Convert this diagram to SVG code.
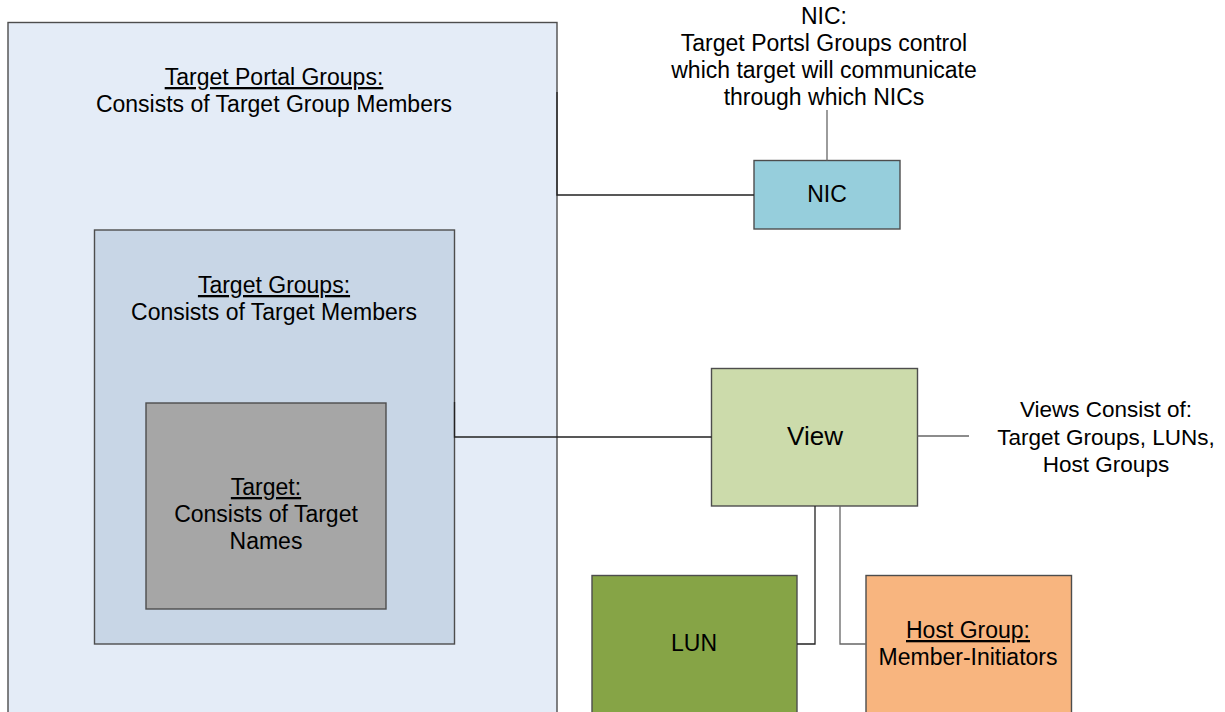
<svg xmlns="http://www.w3.org/2000/svg" width="1225" height="712" viewBox="0 0 1225 712">
  <style>
    .box { stroke: #4d4d4d; stroke-width: 1.4; }
    .wire { fill: none; stroke: #222; stroke-width: 1.3; }
    .wire-light { fill: none; stroke: #666; stroke-width: 1.3; }
    text { font-family: "Liberation Sans", Arial, sans-serif; font-size: 23px; fill: #000; text-anchor: middle; }
    .big { font-size: 26px; }
    .note { font-size: 22.5px; }
    .u { text-decoration: underline; }
  </style>
  <rect width="1225" height="712" fill="#ffffff"/>

  <!-- Target portal groups container -->
  <g id="target-portal-groups">
    <rect class="box" x="8" y="22.5" width="549" height="700" fill="#E4ECF7"/>
    <text x="274" y="85" class="u">Target Portal Groups:</text>
    <text x="274" y="112">Consists of Target Group Members</text>
  </g>

  <!-- Target groups -->
  <g id="target-groups">
    <rect class="box" x="94.5" y="230" width="360" height="414" fill="#C8D6E6"/>
    <text x="274" y="293" class="u">Target Groups:</text>
    <text x="274" y="320">Consists of Target Members</text>
  </g>

  <!-- Target -->
  <g id="target">
    <rect class="box" x="146" y="403" width="240" height="206" fill="#A6A6A6"/>
    <text x="266" y="495" class="u">Target:</text>
    <text x="266" y="522">Consists of Target</text>
    <text x="266" y="549">Names</text>
  </g>

  <!-- NIC note -->
  <g id="nic-note">
    <text x="824" y="24">NIC:</text>
    <text x="824" y="51">Target Portsl Groups control</text>
    <text x="824" y="78">which target will communicate</text>
    <text x="824" y="105">through which NICs</text>
  </g>

  <!-- NIC -->
  <g id="nic">
    <rect class="box" x="754" y="160.5" width="146" height="68.5" fill="#96CEDC"/>
    <text x="827" y="202">NIC</text>
  </g>

  <!-- View -->
  <g id="view">
    <rect class="box" x="711.5" y="368.5" width="206" height="137.5" fill="#CCDBAB"/>
    <text x="815" y="445" class="big">View</text>
  </g>

  <!-- View note -->
  <g id="view-note">
    <text class="note" x="1106" y="417">Views Consist of:</text>
    <text class="note" x="1106" y="445">Target Groups, LUNs,</text>
    <text class="note" x="1106" y="472">Host Groups</text>
  </g>

  <!-- LUN -->
  <g id="lun">
    <rect class="box" x="592" y="575.5" width="205" height="150" fill="#86A446"/>
    <text x="694" y="651">LUN</text>
  </g>

  <!-- Host group -->
  <g id="host-group">
    <rect class="box" x="866" y="575.5" width="205.5" height="150" fill="#F8B57F"/>
    <text x="968" y="638" class="u">Host Group:</text>
    <text x="968" y="665">Member-Initiators</text>
  </g>

  <!-- Connectors -->
  <g id="connectors">
    <path class="wire" d="M557,92 V195 H754"/>
    <path class="wire-light" d="M827,110 V160.5"/>
    <path class="wire" d="M454.5,402 V437 H711.5"/>
    <path class="wire-light" d="M917.5,436 H969"/>
    <path class="wire" d="M815,506 V644 H797"/>
    <path class="wire-light" d="M840,506 V644 H866"/>
  </g>
</svg>
